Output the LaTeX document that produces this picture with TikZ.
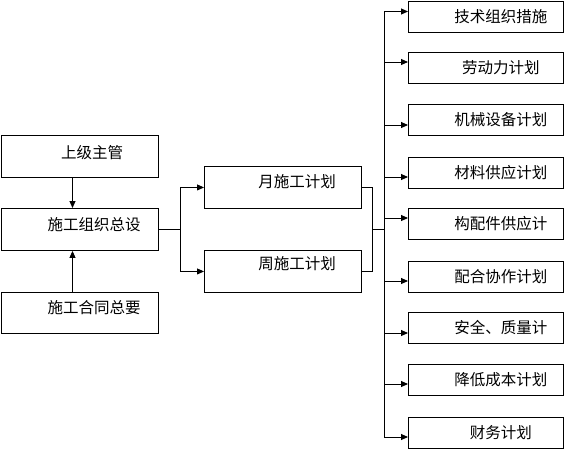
\documentclass[tikz,border=0pt]{standalone}
\usepackage{fontspec}
\setmainfont{Noto Sans CJK SC}
\usetikzlibrary{arrows.meta}

\begin{document}
\begin{tikzpicture}[x=1pt, y=-1pt, line width=0.9pt, >={Triangle[length=7pt,width=6pt]},
    box/.style={draw, rectangle, anchor=north west, inner sep=0pt, minimum width=157pt, minimum height=42pt},
    rbox/.style={box, minimum width=155pt, minimum height=31pt},
    lbl/.style={font=\fontsize{15.5}{17}\selectfont, inner sep=0pt}]
    \useasboundingbox (0,0) rectangle (564,448);

    % Left side: superior and contract feed the general design
    \node[box] (sup) at (0.5,135) {};
    \node[lbl] (supt) at (92,153) {上级主管};
    \node[box] (zong) at (0.5,208) {};
    \node[lbl] (zongt) at (94,225) {施工组织总设};
    \node[box, minimum height=41pt] (ht) at (0.5,292) {};
    \node[lbl] (htt) at (94,308) {施工合同总要};
    \draw[->] ([xshift=72pt]sup.south west) -- ([xshift=72pt]zong.north west);
    \draw[->] ([xshift=72pt]ht.north west) -- ([xshift=72pt]zong.south west);

    % Middle: monthly and weekly plans
    \node[box] (yue) at (204,166) {};
    \node[lbl] (yuet) at (297,182) {月施工计划};
    \node[box] (zhou) at (204,250) {};
    \node[lbl] (zhout) at (297,264) {周施工计划};
    \coordinate (b1) at (zong.east -| 180,0);
    \draw (zong.east) -- (b1);
    \draw[->] (b1) |- (yue.west);
    \draw[->] (b1) |- (zhou.west);
    \coordinate (b2) at (zong.east -| 372,0);
    \draw (yue.east) -| (b2);
    \draw (zhou.east) -| (b2);

    % Right side: trunk and the nine plans
    \coordinate (top) at (384,11);
    \coordinate (bot) at (384,437);
    \draw (b2) -- (b2 -| top);
    \draw (top) -- (bot);
    \foreach \i/\y/\dy/\txt in {1/0.5/11/技术组织措施, 2/52/10/劳动力计划, 3/104/21/机械设备计划,
        4/157/20/材料供应计划, 5/208/10/构配件供应计, 6/261/20/配合协作计划,
        7/312/21/安全、质量计, 8/364/20/降低成本计划, 9/417/20/财务计划} {
        \node[rbox] (r\i) at (408,\y) {};
        \node[lbl] (rt\i) at ([xshift=15pt]r\i.center) {\txt};
        \coordinate (a\i) at ([yshift=-\dy pt]r\i.north west);
        \draw[->] (a\i -| top) -- (a\i);
    }
\end{tikzpicture}
\end{document}
